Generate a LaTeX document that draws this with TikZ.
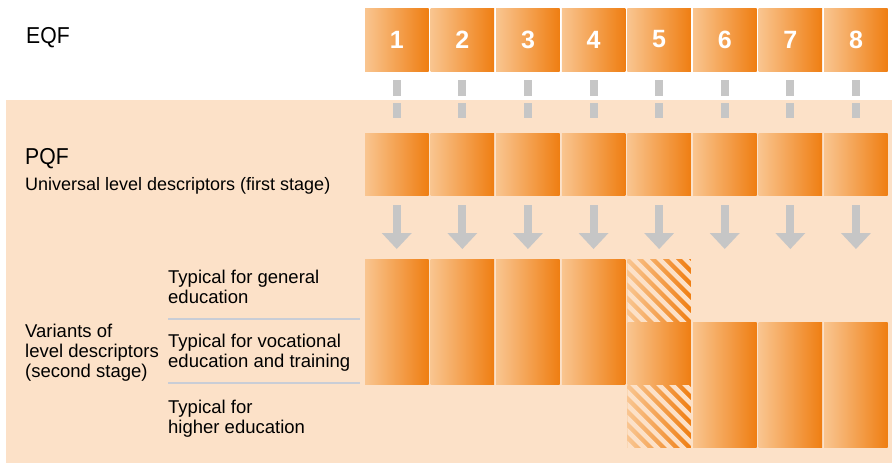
\documentclass[tikz,border=0pt]{standalone}
\usepackage{fontspec}
\setmainfont{Liberation Sans}
\newfontfamily\condfont{Liberation Sans}[FakeStretch=0.92]
\usetikzlibrary{arrows.meta}
\definecolor{peach}{HTML}{FCE1C8}
\definecolor{olight}{HTML}{F9C590}
\definecolor{odark}{HTML}{EF7E12}
\definecolor{agray}{HTML}{C6C6C6}
\definecolor{sepline}{HTML}{C9CDD6}
\tikzset{
  obox/.style={inner sep=0pt, outer sep=0pt, anchor=north west, minimum width=63.5pt,
    shade, shading angle=0, left color=olight, right color=odark},
  hatchbox/.style={obox, path picture={
      \foreach \k in {-78,-65,...,78}
        \draw[peach, line width=4.6pt]
          ([xshift=\k pt, yshift=6pt]path picture bounding box.north west) -- ++(90pt,-90pt);}},
  numtext/.style={font=\fontsize{25}{25}\selectfont\bfseries, text=white},
  bigtext/.style={font=\condfont\fontsize{23}{23}\selectfont, anchor=base west, inner sep=0pt},
  lbl/.style={font=\fontsize{18.5}{20}\selectfont, anchor=base west, inner sep=0pt, align=left},
  dashconn/.style={agray, line width=8pt, dash pattern=on 16pt off 7pt, shorten <=9pt, shorten >=15pt},
  arrconn/.style={agray, line width=8pt, shorten <=10pt, shorten >=10pt,
    -{Triangle[width=30pt,length=16pt,line width=0pt]}},
  sep/.style={sepline, line width=1.1pt}
}
\begin{document}
\begin{tikzpicture}[x=1pt,y=-1pt]
\useasboundingbox (0,0) rectangle (892,464);
\fill[white] (0,0) rectangle (892,464);
\fill[peach] (6,100) rectangle (892,463);
% labels
\node[bigtext] (eqf) at (26,43) {EQF};
\node[bigtext] (pqf) at (25,164) {PQF};
\node[lbl, font=\fontsize{18}{20}\selectfont] (uni) at (25,190) {Universal level descriptors (first stage)};
\node[lbl] (var) at (25,377) {Variants of\\level descriptors\\(second stage)};
\node[lbl] (gen) at (168,303) {Typical for general\\education};
\node[lbl] (voc) at (168,367) {Typical for vocational\\education and training};
\node[lbl] (hig) at (168,433) {Typical for\\higher education};
\coordinate (s1a) at (168,319); \coordinate (s1b) at (360,319);
\coordinate (s2a) at (168,383); \coordinate (s2b) at (360,383);
\draw[sep] (s1a) -- (s1b);
\draw[sep] (s2a) -- (s2b);
% columns
\foreach \i in {1,...,8}{
  \pgfmathsetmacro{\xx}{365+(\i-1)*65.6}
  \node[obox, minimum height=63pt, numtext] (e\i) at (\xx,8) {\i};
  \node[obox, minimum height=62pt] (p\i) at (\xx,133) {};
}
\foreach \i in {1,...,4}{
  \pgfmathsetmacro{\xx}{365+(\i-1)*65.6}
  \node[obox, minimum height=125pt] (s\i) at (\xx,259) {};
}
\pgfmathsetmacro{\xf}{365+4*65.6}
\node[hatchbox, minimum height=62pt] (s5) at (\xf,259) {};
\node[obox, minimum height=62pt] (v5) at (\xf,322) {};
\node[hatchbox, minimum height=62pt] (h5) at (\xf,385) {};
\foreach \i in {6,7,8}{
  \pgfmathsetmacro{\xx}{365+(\i-1)*65.6}
  \node[obox, minimum height=125pt] (s\i) at (\xx,322) {};
}
% connectors
\foreach \i in {1,...,8}{
  \draw[dashconn] (e\i.south) -- (p\i.north);
}
\foreach \i in {1,...,5}{
  \draw[arrconn] (p\i.south) -- (s\i.north);
}
\foreach \i in {6,7,8}{
  \coordinate (t\i) at ([yshift=63pt]s\i.north);
  \draw[arrconn] (p\i.south) -- (t\i);
}
\end{tikzpicture}
\end{document}
